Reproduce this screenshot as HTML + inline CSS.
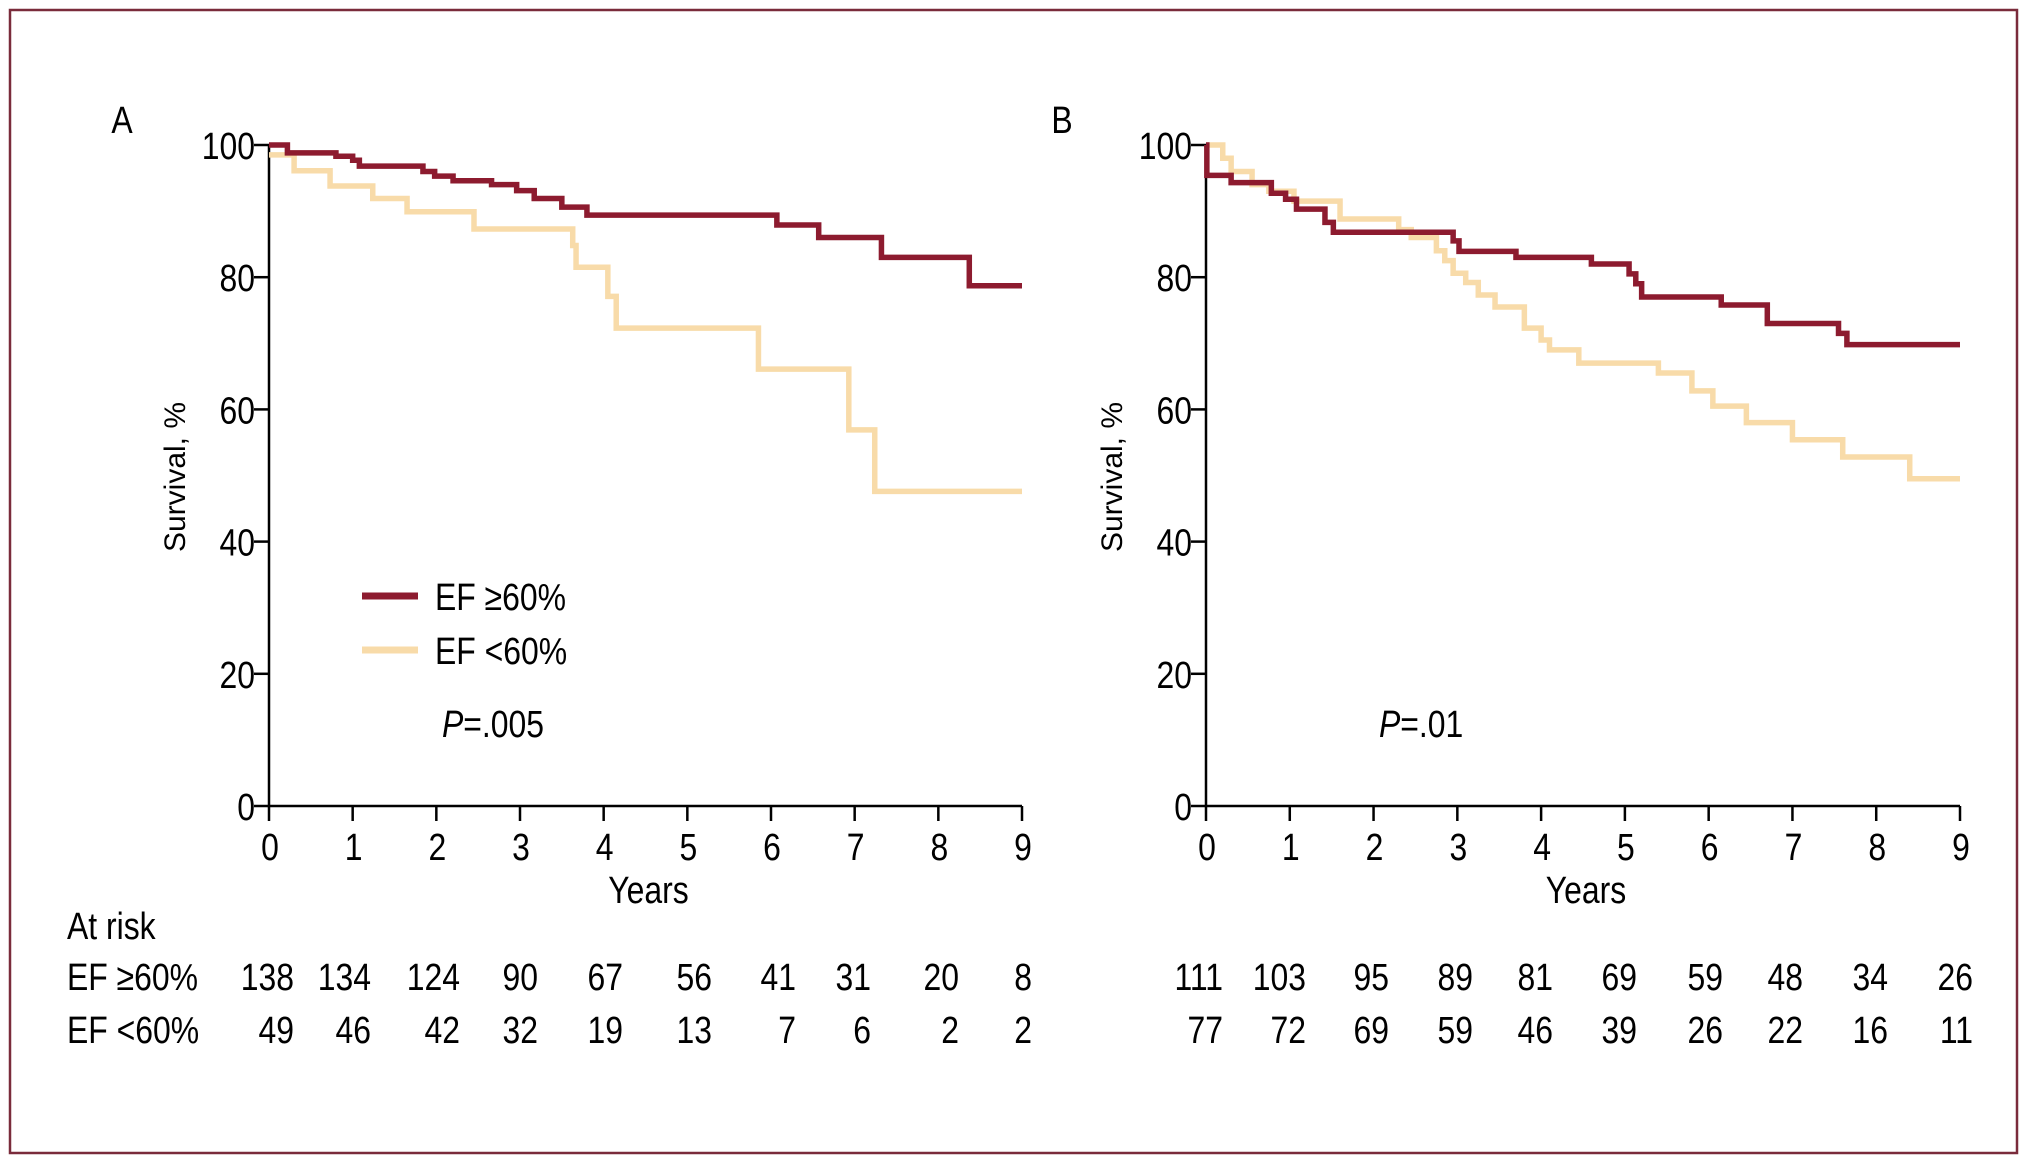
<!DOCTYPE html>
<html><head><meta charset="utf-8">
<style>
html,body{margin:0;padding:0;background:#fff;}
svg{display:block;}
text{font-family:"Liberation Sans",sans-serif;fill:#000;}
</style></head>
<body>
<svg id="chart" width="2033" height="1170" viewBox="0 0 2033 1170" xmlns="http://www.w3.org/2000/svg">
<rect x="10" y="10" width="2007" height="1143" fill="none" stroke="#7a2b3b" stroke-width="2.5"/>
<g id="layer"></g>
</svg>
<script>
const yearTicks = [0,1,2,3,4,5,6,7,8,9];
const survTicks = [0,20,40,60,80,100];
// Panel A
const aHighTimes = [0,0.22,0.8,1.0,1.08,1.84,1.98,2.2,2.66,2.96,3.17,3.5,3.8,6.07,6.57,7.32,8.37];
const aHighSurv  = [100,98.8,98.3,97.7,96.8,96,95.3,94.6,94,93.1,91.9,90.6,89.4,87.9,86,83,78.7];
const aLowTimes  = [0,0.3,0.73,1.24,1.65,2.45,3.63,3.67,4.05,4.15,5.85,6.93,7.24];
const aLowSurv   = [98.5,96.1,93.8,91.9,89.9,87.3,84.8,81.5,77.1,72.3,66.1,56.9,47.6];
const aRiskHigh = [138,134,124,90,67,56,41,31,20,8];
const aRiskLow  = [49,46,42,32,19,13,7,6,2,2];
// Panel B
const bHighTimes = [0,0.01,0.3,0.78,0.95,1.08,1.42,1.52,2.95,3.02,3.7,4.6,5.05,5.13,5.2,6.15,6.7,7.55,7.65];
const bHighSurv  = [100,95.4,94.3,92.7,91.8,90.3,88.3,86.8,85.5,83.9,83,82,80.5,79,77,75.8,73,71.5,69.8];
const bLowTimes  = [0,0.2,0.3,0.55,0.75,1.05,1.6,2.3,2.45,2.75,2.85,2.95,3.1,3.25,3.45,3.8,4.0,4.1,4.45,5.4,5.8,6.05,6.45,7.0,7.6,8.4];
const bLowSurv   = [100,98,96,94,93,91.5,88.8,87.2,86,84,82.5,80.6,79.2,77.3,75.5,72.3,70.5,69,67,65.5,62.8,60.5,58,55.4,52.8,49.5];
const bRiskHigh = [111,103,95,89,81,69,59,48,34,26];
const bRiskLow  = [77,72,69,59,46,39,26,22,16,11];
const maxYear = 9;

const NS = "http://www.w3.org/2000/svg";
const layer = document.getElementById('layer');
function mk(tag, attrs, txt){
  const e = document.createElementNS(NS, tag);
  for (const k in attrs) e.setAttribute(k, attrs[k]);
  if (txt !== undefined) e.textContent = txt;
  layer.appendChild(e);
  return e;
}
// condensed text
const FS = 38, SX = 0.84;
function ct(x, y, str, anchor){
  return mk('text',{x:0,y:0,'font-size':FS,'text-anchor':anchor||'start',transform:`translate(${x},${y}) scale(${SX},1)`}, str);
}
const Y0 = 806, Y100 = 145;
function yS(v){ return Y0 - (v/100)*(Y0-Y100); }

function panel(p){
  const xS = t => p.x0 + (t/maxYear)*(p.x9-p.x0);
  const ax = mk('path',{d:`M${p.x0} ${Y100} V${Y0} H${p.x9}`, fill:'none', stroke:'#000','stroke-width':2.5});
  
  
  survTicks.forEach(v=>{
    const tk = mk('line',{x1:p.x0-15,x2:p.x0,y1:yS(v),y2:yS(v),stroke:'#000','stroke-width':2.5});
    
    
    const tl = ct(p.x0-14, yS(v)+14, String(v), 'end');
    
    
  });
  yearTicks.forEach(t=>{
    const tk = mk('line',{x1:xS(t),x2:xS(t),y1:Y0,y2:Y0+15,stroke:'#000','stroke-width':2.5});
    
    
    const tl = ct(xS(t)+1, 860, String(t), 'middle');
    
    
  });
  const xt = ct((p.x0+p.x9)/2+3, 903, 'Years', 'middle');
  
  
  const yt = mk('text',{x:0,y:0,'text-anchor':'middle',transform:`translate(${p.ytx},477) rotate(-90)`, style:'font-size:30px'},'Survival, %');
  
  
  const lab = ct(p.labx, 133, p.label, 'middle');
  
  
  function curve(times, surv, color, name){
    let d = `M${xS(times[0])} ${yS(surv[0])}`;
    for (let i=1;i<times.length;i++){
      d += ` H${xS(times[i])} V${yS(surv[i])}`;
    }
    d += ` H${xS(maxYear)}`;
    const c = mk('path',{d:d, fill:'none', stroke:color, 'stroke-width':5.5});
    
    
  }
  curve(p.lowT, p.lowS, '#f8dba9', p.id+'-curve-ef-below-60');
  curve(p.highT, p.highS, '#8d1b2f', p.id+'-curve-ef-60-plus');
  const pv = ct(p.px, 737, '');
  
  
  pv.innerHTML = '<tspan font-style="italic">P</tspan>'+p.pval;
  const rr = p.riskRight;
  p.riskHigh.forEach((n,i)=>{
    const t = ct(rr[i], 990, String(n), 'end');
    
    
  });
  p.riskLow.forEach((n,i)=>{
    const t = ct(rr[i], 1043, String(n), 'end');
    
    
  });
}

panel({id:'panel-a', label:'A', labx:122, x0:269, x9:1022, ytx:185,
  highT:aHighTimes, highS:aHighSurv, lowT:aLowTimes, lowS:aLowSurv,
  px:442, pval:'=.005', riskHigh:aRiskHigh, riskLow:aRiskLow,
  riskRight:[294,371,460,538,623,712,796,871,959,1032]});
panel({id:'panel-b', label:'B', labx:1062, x0:1206, x9:1960, ytx:1122,
  highT:bHighTimes, highS:bHighSurv, lowT:bLowTimes, lowS:bLowSurv,
  px:1379, pval:'=.01', riskHigh:bRiskHigh, riskLow:bRiskLow,
  riskRight:[1223,1306,1389,1473,1553,1637,1723,1803,1888,1973]});

// legend
const l1 = mk('line',{x1:362,x2:418,y1:596,y2:596,stroke:'#8d1b2f','stroke-width':7});


const t1 = ct(435, 610, 'EF \u226560%');


const l2 = mk('line',{x1:362,x2:418,y1:650,y2:650,stroke:'#f8dba9','stroke-width':7});


const t2 = ct(435, 664, 'EF <60%');



// at risk labels
const ar = ct(67, 939, 'At risk');


const ar1 = ct(67, 990, 'EF \u226560%');


const ar2 = ct(67, 1043, 'EF <60%');


</script>
</body></html>
